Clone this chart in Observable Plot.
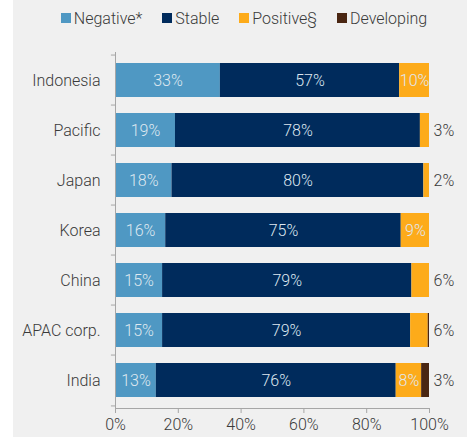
<!DOCTYPE html>
<html>
<head>
<meta charset="utf-8">
<script src="https://cdn.jsdelivr.net/npm/d3@7"></script>
<script src="https://cdn.jsdelivr.net/npm/@observablehq/plot@0.6"></script>
<style>
  html, body { margin: 0; padding: 0; background: #ffffff; }
  #panel { position: absolute; left: 13px; top: 0; width: 454px; height: 437px; background: #f0f0f0; font-family: Roboto, "Liberation Sans", sans-serif; font-weight: 300; }
  #legend { height: 36px; display: flex; justify-content: center; align-items: center; gap: 20px; font-size: 16px; color: #3a3a3a; padding-left: 8px; box-sizing: border-box; }
  .item { display: flex; align-items: center; }
  .sw { width: 10px; height: 10px; margin-right: 3px; display: inline-block; }
  #chart svg { display: block; }
</style>
</head>
<body>
<div id="panel">
  <div id="legend"></div>
  <div id="chart"></div>
</div>
<script>
const categories = ["Indonesia", "Pacific", "Japan", "Korea", "China", "APAC corp.", "India"];
const series = ["Negative*", "Stable", "Positive§", "Developing"];
const negative   = [33.4, 19.1, 18.0, 16.0, 15.0, 15.0, 13.0];
const stable     = [57.1, 78.0, 80.2, 75.0, 79.4, 79.0, 76.4];
const positive   = [9.5,  2.9,  1.8,  9.0,  5.6,  5.6,  8.1];
const developing = [0,    0,    0,    0,    0,    0.4,  2.5];
const xTicks = [0, 20, 40, 60, 80, 100];
const colors = ["#4f98c3", "#002b5c", "#fdab1a", "#4a2612"];

const seriesValues = [negative, stable, positive, developing];
const data = categories.flatMap((c, i) =>
  series.map((s, j) => ({category: c, series: s, value: seriesValues[j][i]}))
).filter(d => d.value > 0);

const totals = new Map(categories.map((c, i) => [c, seriesValues.reduce((a, arr) => a + arr[i], 0)]));
const isInside = d => d.series !== "Developing" && d.value >= 7.5;
const isOutside = d => !isInside(d) && d.value >= 1;
const fmt = v => Math.round(v) + "%";

// legend
const legend = document.getElementById("legend");
series.forEach((s, i) => {
  const it = document.createElement("div");
  it.className = "item";
  const sw = document.createElement("span");
  sw.className = "sw";
  sw.style.background = colors[i];
  it.appendChild(sw);
  it.appendChild(document.createTextNode(s));
  legend.appendChild(it);
});

const W = 454, H = 401, mt = 16, mb = 29, ml = 102, mr = 38;
const step = (H - mt - mb) / categories.length;
const axisGray = "#a6a6a6";

const chart = Plot.plot({
  width: W,
  height: H,
  marginTop: mt,
  marginBottom: mb,
  marginLeft: ml,
  marginRight: mr,
  style: {background: "transparent", fontFamily: "Roboto, 'Liberation Sans', sans-serif", fontSize: "16px", fontWeight: 300, color: "#3a3a3a"},
  x: {domain: [0, 100], axis: null},
  y: {domain: categories, paddingInner: 0.33, paddingOuter: 0.165, axis: null},
  color: {domain: series, range: colors},
  marks: [
    Plot.barX(data, Plot.stackX({y: "category", x: "value", fill: "series"})),
    Plot.text(data, Plot.stackX({y: "category", x: "value", z: "series",
      text: d => isInside(d) ? fmt(d.value) : null, fill: "#dfe8f0", fontSize: 16})),
    Plot.text(data.filter(isOutside), {y: "category", x: d => totals.get(d.category), dx: 4,
      textAnchor: "start", text: d => fmt(d.value), fill: "#3a3a3a", fontSize: 16}),
    Plot.ruleX([0], {stroke: axisGray}),
    Plot.frame({anchor: "bottom", stroke: axisGray}),
    Plot.ruleY(categories, {y: d => d, x1: -1.3, x2: 0, dy: -step / 2, stroke: axisGray}),
    Plot.ruleY(categories.slice(-1), {y: d => d, x1: -1.3, x2: 0, dy: step / 2, stroke: axisGray}),
    Plot.axisX({ticks: xTicks, tickSize: 5, tickPadding: 5, tickFormat: d => d + "%", stroke: axisGray, fill: "#3a3a3a", label: null, fontSize: 16}),
    Plot.axisY({tickSize: 0, tickPadding: 15, fill: "#3a3a3a", label: null, fontSize: 16})
  ]
});
document.getElementById("chart").appendChild(chart);
</script>
</body>
</html>
